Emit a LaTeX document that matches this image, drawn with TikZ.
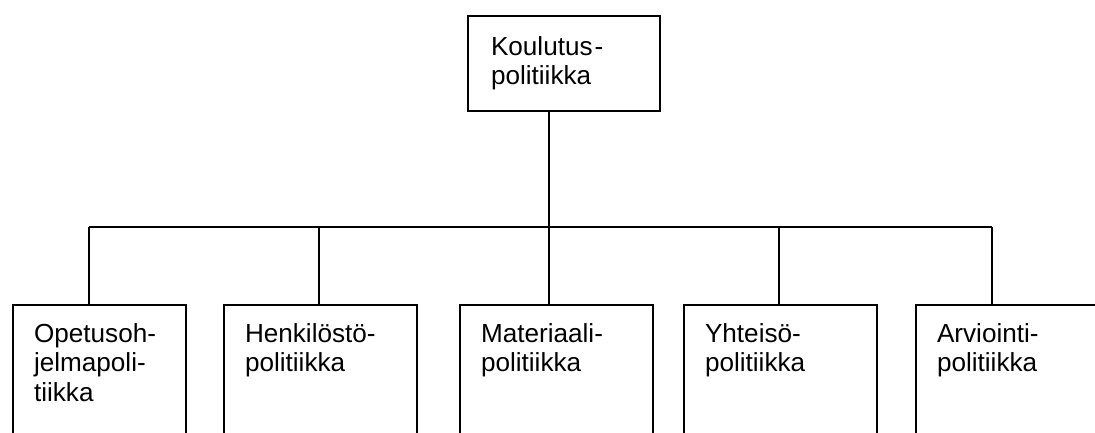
\documentclass[tikz,border=0pt]{standalone}
\usepackage{fontspec}
\setmainfont{Liberation Sans}
\begin{document}
\begin{tikzpicture}[x=0.75pt,y=-0.75pt,
  line width=1.5pt,
  orgbox/.style={draw, rectangle, inner sep=0pt, anchor=north west, minimum width=144.75pt},
  lbl/.style={anchor=north west, inner sep=0pt, align=left,
    font=\fontsize{19.6pt}{22pt}\selectfont},
]
\clip (0,0) rectangle (1095,432);

% top box
\node[orgbox, minimum width=144pt, minimum height=71.25pt] (top) at (467,15) {};
\node[lbl] (ttop) at (490,35.5) {Koulutus\kern1.5pt-\\politiikka};

% bottom row (extends past the lower edge)
\node[orgbox, minimum width=129.75pt, minimum height=120pt] (b1) at (12,304) {};
\node[orgbox, minimum height=120pt] (b2) at (223,304) {};
\node[orgbox, minimum height=120pt] (b3) at (459,304) {};
\node[orgbox, minimum height=120pt] (b4) at (683,304) {};
\node[orgbox, minimum height=120pt] (b5) at (915,304) {};

\node[lbl] (t1) at (33,322.5) {Opetusoh-\\jelmapoli-\\tiikka};
\node[lbl] (t2) at (244,322.5) {Henkilöstö-\\politiikka};
\node[lbl] (t3) at (480,322.5) {Materiaali-\\politiikka};
\node[lbl] (t4) at (704,322.5) {Yhteisö-\\politiikka};
\node[lbl] (t5) at (936,322.5) {Arviointi-\\politiikka};

% connector tree
\coordinate (hub) at (549,227);
\coordinate (j1) at (89,227);
\coordinate (j2) at (319,227);
\coordinate (j3) at (549,227);
\coordinate (j4) at (779,227);
\coordinate (j5) at (992,227);

\draw (hub |- top.south) -- (hub);
\draw (j1) -- (j5);
\foreach \i in {1,...,5} {
  \draw (j\i) -- (j\i |- b\i.north);
}
\end{tikzpicture}
\end{document}
